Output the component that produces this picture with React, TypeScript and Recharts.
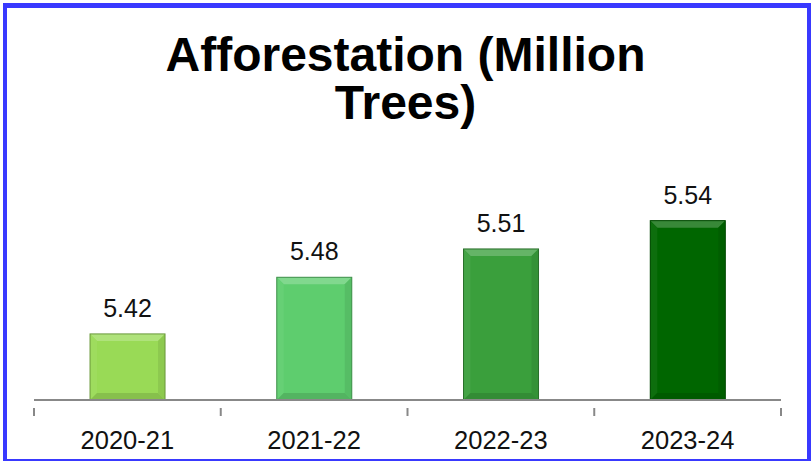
import React from 'react'
import { BarChart, Bar, XAxis, YAxis, Cell, LabelList } from 'recharts'

const years = ['2020-21', '2021-22', '2022-23', '2023-24']
const trees = [5.42, 5.48, 5.51, 5.54]
const barColors = ['#99DA56', '#5ECD6E', '#3A9F3C', '#006600']

const data = years.map((year, i) => ({ year, value: trees[i], color: barColors[i] }))

const W = 811
const H = 461
const margin = { top: 164, right: 30, bottom: 21, left: 34 }
const step = (W - margin.left - margin.right) / years.length

// mix a hex colour toward white (amt > 0) or black (amt < 0)
const shade = (hex: string, amt: number) => {
  const n = parseInt(hex.slice(1), 16)
  const ch = [(n >> 16) & 255, (n >> 8) & 255, n & 255].map((c) =>
    Math.round(amt > 0 ? c + (255 - c) * amt : c * (1 + amt))
  )
  return `rgb(${ch.join(',')})`
}

const BevelBar = (props: any) => {
  const { x, y, width, height, payload } = props
  const c = payload.color
  const b = Math.min(7, width / 4, height / 4)
  const pts = (arr: number[][]) => arr.map((p) => p.join(',')).join(' ')
  return (
    <g>
      <rect x={x} y={y} width={width} height={height} fill={c} />
      <polygon
        points={pts([[x, y], [x + width, y], [x + width - b, y + b], [x + b, y + b]])}
        fill={shade(c, 0.22)}
      />
      <polygon
        points={pts([[x, y], [x + b, y + b], [x + b, y + height - b], [x, y + height]])}
        fill={shade(c, 0.05)}
      />
      <polygon
        points={pts([[x + width, y], [x + width, y + height], [x + width - b, y + height - b], [x + width - b, y + b]])}
        fill={shade(c, -0.08)}
      />
      <polygon
        points={pts([[x, y + height], [x + b, y + height - b], [x + width - b, y + height - b], [x + width, y + height]])}
        fill={shade(c, -0.12)}
      />
      <rect x={x} y={y} width={width} height={height} fill="none" stroke={shade(c, -0.3)} strokeWidth={1} />
    </g>
  )
}

const YearTick = (props: any) => {
  const { x, y, payload, index } = props
  const left = x - step / 2
  return (
    <g>
      <line x1={left} y1={y} x2={left} y2={y + 8} stroke="#888" strokeWidth={2} />
      {index === years.length - 1 && (
        <line x1={left + step} y1={y} x2={left + step} y2={y + 8} stroke="#888" strokeWidth={2} />
      )}
      <text x={x} y={y + 41} textAnchor="middle" fontSize={25.5} fill="#111">
        {payload.value}
      </text>
    </g>
  )
}

export default function App() {
  return (
    <div style={{ position: 'absolute', left: 0, top: 0, width: W, height: H, background: '#fff', fontFamily: 'Liberation Sans, Arial, sans-serif' }}>
      <div
        style={{
          position: 'absolute',
          left: 3,
          top: 3,
          width: W - 3,
          height: H - 3,
          boxSizing: 'border-box',
          borderStyle: 'solid',
          borderColor: '#3939FF',
          borderWidth: '5px 4px 2px 4px',
        }}
      />
      <div
        style={{
          position: 'absolute',
          left: 0,
          top: 31,
          width: W,
          textAlign: 'center',
          fontSize: 48,
          lineHeight: '48px',
          fontWeight: 'bold',
          color: '#000',
        }}
      >
        Afforestation (Million
        <br />
        Trees)
      </div>
      <div style={{ position: 'absolute', left: 0, top: 0 }}>
        <BarChart width={W} height={H} data={data} margin={margin} barCategoryGap="30%">
          <XAxis
            dataKey="year"
            height={40}
            axisLine={{ stroke: '#888', strokeWidth: 2 }}
            tickLine={false}
            tick={<YearTick />}
            interval={0}
          />
          <YAxis hide domain={[5.35, 5.6]} allowDataOverflow />
          <Bar dataKey="value" isAnimationActive={false} shape={<BevelBar />}>
            {data.map((d) => (
              <Cell key={d.year} fill={d.color} />
            ))}
            <LabelList
              dataKey="value"
              position="top"
              offset={17}
              fill="#111"
              fontSize={25}
              formatter={(v: any) => Number(v).toFixed(2)}
            />
          </Bar>
        </BarChart>
      </div>
    </div>
  )
}
